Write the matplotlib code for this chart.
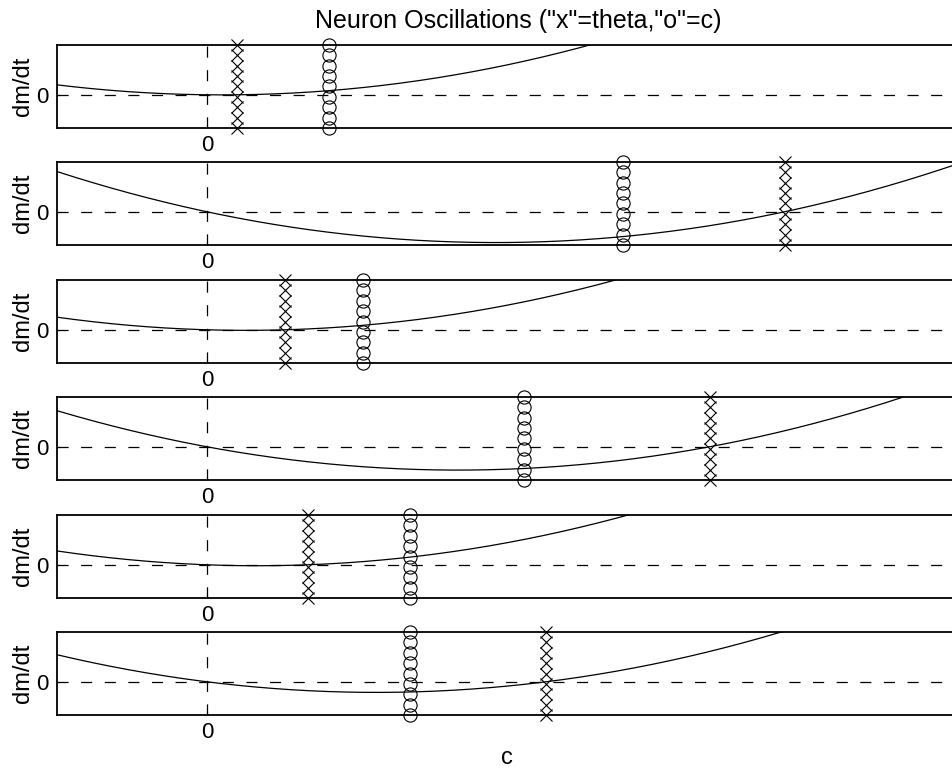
import numpy as np
import matplotlib
matplotlib.use("Agg")
import matplotlib.pyplot as plt

plt.rcParams['font.family'] = ['Liberation Sans', 'DejaVu Sans']
plt.rcParams['lines.scale_dashes'] = False

# Data
theta = [0.20, 3.85, 0.52, 3.35, 0.67, 2.26]   # "x" markers
cvals = [0.81, 2.77, 1.04, 2.11, 1.35, 1.35]   # "o" markers
marker_y = [-4.0, -2.75, -1.5, -0.25, 1.0, 2.25, 3.5, 4.75, 6.0]
xlim = (-1, 5)
ylim = (-4, 6)
xticks = [0]
yticks = [0]

W, H = 953, 773
fig = plt.figure(figsize=(W / 100, H / 100), dpi=100)

tops = [45, 162, 280, 397, 515, 632]
hgt = 83
left_px, right_px = 57, 957

c_grid = np.linspace(xlim[0], xlim[1], 600)

axes = []
for k in range(6):
    ax = fig.add_axes([left_px / W, 1 - (tops[k] + hgt) / H,
                       (right_px - left_px) / W, hgt / H])
    axes.append(ax)
    dm = c_grid * (c_grid - theta[k])
    ax.plot(c_grid, dm, color='black', lw=0.9)
    ax.plot(xlim, [0, 0], color='black', lw=0.9, dashes=(8, 9))
    ax.plot([0, 0], ylim, color='black', lw=0.9, dashes=(8, 9))
    ax.plot([theta[k]] * len(marker_y), marker_y, linestyle='none', marker='x',
            ms=9, mew=0.8, color='black', clip_on=False)
    ax.plot([cvals[k]] * len(marker_y), marker_y, linestyle='none', marker='o',
            ms=9.5, mew=0.8, mfc='none', mec='black', clip_on=False)
    ax.set_xlim(*xlim)
    ax.set_ylim(*ylim)
    ax.set_xticks(xticks)
    ax.set_yticks(yticks)
    ax.tick_params(direction='in', length=2.5, width=0.8, labelsize=16)
    ax.tick_params(axis='x', pad=5)
    ax.tick_params(axis='y', pad=6)
    for s in ['top', 'bottom', 'left']:
        ax.spines[s].set_linewidth(1.3)
    ax.spines['right'].set_visible(False)
    ax.set_ylabel('dm/dt', fontsize=17, labelpad=2)

axes[0].set_title('Neuron Oscillations ("x"=theta,"o"=c)', fontsize=18, pad=12,
                  x=0.513)
axes[-1].set_xlabel('c', fontsize=17, labelpad=3)

fig.savefig('out.png', dpi=100)
